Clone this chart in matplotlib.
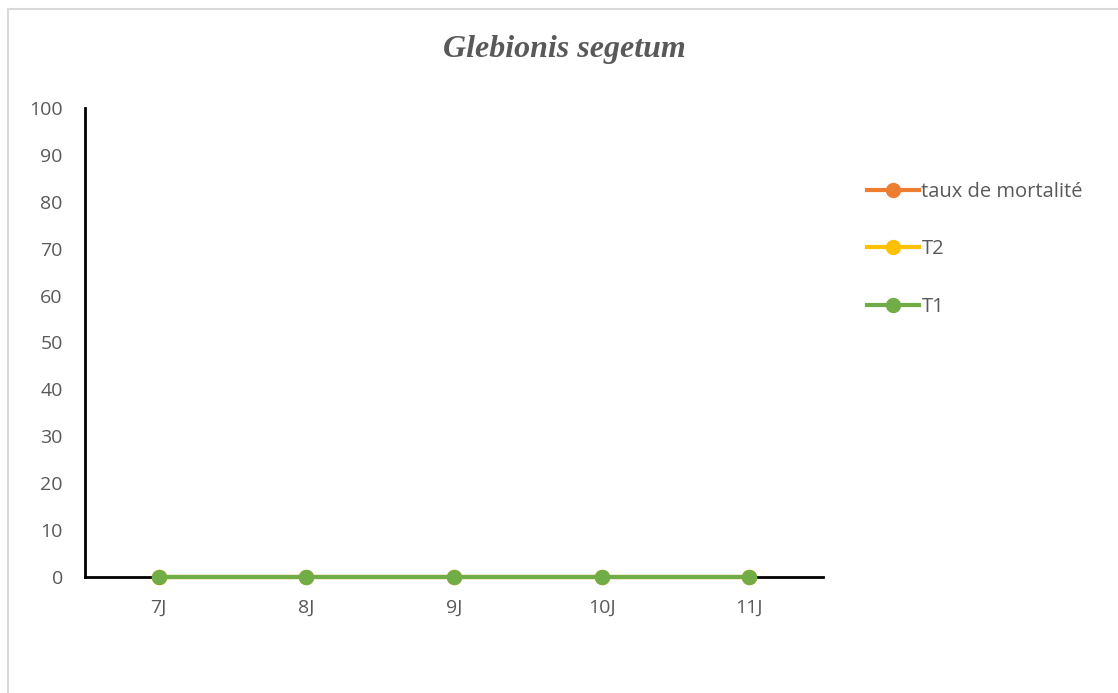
import matplotlib
matplotlib.use("Agg")
import matplotlib.pyplot as plt
from matplotlib.lines import Line2D

categories = ["7J", "8J", "9J", "10J", "11J"]
taux_mortalite = [0, 0, 0, 0, 0]
t2 = [0, 0, 0, 0, 0]
t1 = [0, 0, 0, 0, 0]
series_names = ["taux de mortalité", "T2", "T1"]
colors = ["#ED7D31", "#FFC000", "#70AD47"]
yticks = list(range(0, 101, 10))

W, H = 1118, 693
fig = plt.figure(figsize=(W / 100, H / 100), dpi=100)
plt.rcParams['font.family'] = ['Open Sans', 'DejaVu Sans']

ax = fig.add_axes([85 / W, 1 - 577 / H, (823 - 85) / W, (577 - 108) / H])
x = list(range(len(categories)))
for name, vals, c in zip(series_names, [taux_mortalite, t2, t1], colors):
    ax.plot(x, vals, color=c, lw=3, marker='o', markersize=10,
            solid_capstyle='round', label=name, clip_on=False, zorder=3)

ax.set_xlim(-0.5, len(categories) - 0.5)
ax.set_ylim(0, 100)
ax.set_yticks(yticks)
ax.set_xticks(x)
ax.set_xticklabels(categories)
for s in ['top', 'right']:
    ax.spines[s].set_visible(False)
for s in ['left', 'bottom']:
    ax.spines[s].set_linewidth(2)
    ax.spines[s].set_color('black')
    ax.spines[s].set_zorder(2)
ax.tick_params(axis='both', length=0, labelsize=14, colors='#595959')
ax.tick_params(axis='y', pad=16)
ax.tick_params(axis='x', pad=16)

fig.text(0.5045, 1 - 50 / H, "Glebionis segetum", ha='center', va='center',
         fontsize=23, fontweight='bold', fontstyle='italic',
         family='Liberation Serif', color='#595959')

leg_handles = [Line2D([], [], color=c, lw=3, marker='o', markersize=10)
               for c in colors]
fig.legend(leg_handles, series_names, loc='upper left',
           bbox_to_anchor=(859 / W, 1 - 174 / H), frameon=False,
           fontsize=14.5, labelcolor='#595959', handlelength=2.6,
           handletextpad=0.1, labelspacing=1.85, borderaxespad=0)

# outer chart border
fig.add_artist(Line2D([8 / W, 1], [1 - 9 / H, 1 - 9 / H], color='#D9D9D9', lw=1.5,
                      transform=fig.transFigure))
fig.add_artist(Line2D([8 / W, 8 / W], [0, 1 - 9 / H], color='#D9D9D9', lw=1.5,
                      transform=fig.transFigure))

fig.savefig("out.png", dpi=100)
